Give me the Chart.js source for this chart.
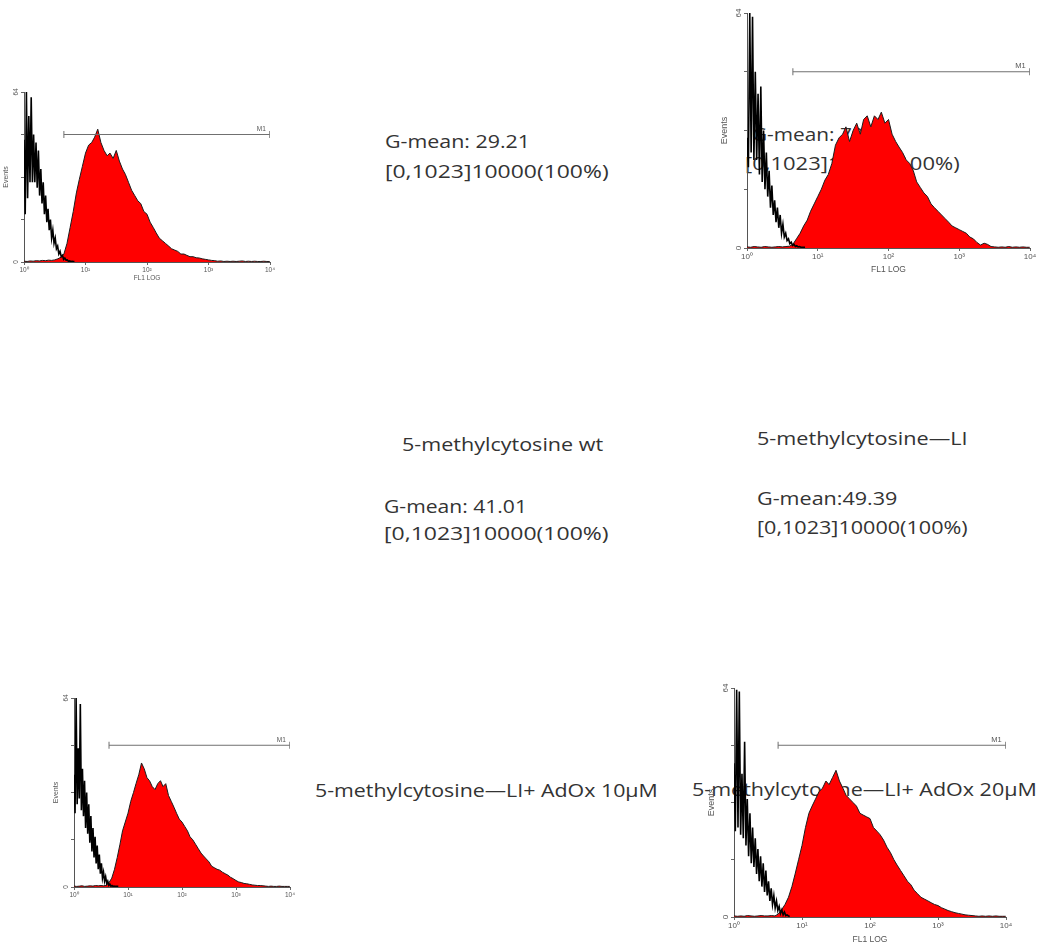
<!DOCTYPE html>
<html><head><meta charset="utf-8">
<script src="https://cdn.jsdelivr.net/npm/chart.js@4.4.1/dist/chart.umd.min.js"></script>
<style>
html,body{margin:0;padding:0;background:#fff;}
#page{position:relative;width:1049px;height:950px;overflow:hidden;background:#fff;}
.lbl{position:absolute;white-space:nowrap;font-family:"Open Sans",sans-serif;font-size:18px;line-height:24px;color:#333;transform-origin:0 0;z-index:1;}
.pc{position:absolute;z-index:2;}
canvas{display:block;}
</style></head><body><div id="page"></div>
<script>
// ---- data ----
// FL1 LOG channel numbers (0..1023, 256 channels per decade)
const channelFine = [0,5,10,15,20,25,30,35,40,45,50,55,60,65,70,75,80,85,90,95,100,105,110,115,120,125,130,135,140,145,150,155,160,165,170,175,180,185,190,195,200,205,210];
const channelBins = [0,13,26,38,51,64,77,90,102,115,128,141,154,166,179,192,205,218,230,243,
  256,269,282,294,307,320,333,346,358,371,384,397,410,422,435,448,461,474,486,499,
  512,525,538,550,563,576,589,602,614,627,640,653,666,678,691,704,717,730,742,755,
  768,781,794,806,819,832,845,858,870,883,896,909,922,934,947,960,973,986,998,1011,1023];
const decadeLabels = ['10\u2070','10\u00b9','10\u00b2','10\u00b3','10\u2074'];
const yLabelValues = [0, 64];
const gateM1 = [166, 1023];
const gateLevel = 48;

// unstained control (black) events
const ctrlWt = [46,18,64,24,55,30,62,30,48,30,45,28,42,25,35,22,30,18,25,15,20,12,16,9,12,7,9,5,6,3,4,2,2.5,1,1.5,0.7,0.8,0.3,0.4,0.2,0.3,0.2,0.2];
const ctrlLI = [30,22,64,26,63,24,48,24,42,20,44,18,32,16,26,14,21,11,17,9,13,7,11,5.5,9,4,6.5,3,4,2,2.5,1.2,1.6,0.7,1,0.4,0.6,0.3,0.4,0.2,0.2,0.2,0.2];
const ctrlAdOx10 = [38,25,64,28,47,30,62,26,40,24,36,20,32,18,28,15,24,12,20,10,17,8,14,6,11,4.5,8,3,5,2,3.5,1.2,2,0.6,1,0.3,0.5,0.2,0.3,0.2,0.2,0.2,0.2];
const ctrlAdOx20 = [43,24,63.5,25,63,23,40,22,49,20,33,17,29,15,25,14,22,12,19,10,17,8.5,15,7,13,6,10,4.5,8,3.5,6,2.5,4.5,1.8,3,1,2,0.6,1.4,0.4,0.6,0.3,0.2];

// 5-methylcytosine stained sample (red) events
const sampleWt = [0.3,0.2,0.4,0.3,0.5,0.4,0.6,0.5,0.7,0.6,0.8,1.2,1.8,3,7,13,19,26,31,36,
  41,44,45,47,50,45,42,40,41,39,42,38,35,33,30,27,25,23,22,19,
  18,15,13,11,9,8,7,6,5,4.5,4,3,3,2.5,2,2,1.6,1.5,1.2,1,
  0.8,0.6,0.5,0.3,0.4,0.2,0.3,0.2,0.3,0.2,0.3,0.4,0.2,0.3,0.2,0.3,0.2,0.2,0.3,0.2,0.2];
const sampleLI = [0.3,0.2,0.4,0.3,0.2,0.4,0.3,0.2,0.3,0.4,0.3,0.4,0.5,1,2.5,4,6,7.6,10,12,
  14,16,18.5,20,23,28,30,31,33,29,32,34,31,35,36,33,36,35,37,34,
  35,31,29,27.5,26,24,23,21,18,16.5,15,14,12,11,10,9,8,7,6,5.5,
  5,4.5,4,3,2.5,1.5,0.8,1.3,1,0.4,0.3,0.2,0.3,0.2,0.4,0.2,0.3,0.2,0.3,0.2,0.2];
const sampleAdOx10 = [0.3,0.2,0.3,0.4,0.2,0.3,0.4,0.3,0.5,0.4,0.5,0.4,0.6,1.5,3,6,10,14.5,19,22,
  25,29,32,35,38,42,40,37,36,34,33,35,36,34,35,31,29,27,25,23,
  22,20.5,19,17,16,14.5,13,11.5,10.5,9.5,8.5,7,6.5,6,5.7,5,4.5,4,3.3,2.8,
  2.2,1.7,1.5,1.2,1.1,0.9,0.7,0.6,0.5,0.5,0.4,0.3,0.2,0.3,0.2,0.2,0.3,0.2,0.2,0.2,0.2];
const sampleAdOx20 = [0.3,0.2,0.3,0.2,0.4,0.3,0.2,0.3,0.4,0.3,0.3,0.4,0.3,0.8,2,3.5,5.5,8.5,12,16,
  20,25,29,31,33,35,36,38,37,39,41,38,36,34,33,32,31,29,28.5,28,
  27.5,25,24,23,21.5,19.5,18,16,14.5,13,11.5,10,9,7.5,6.5,5.5,5,4.5,4,3.5,
  3.2,2.6,2.2,1.8,1.5,1.2,1,0.8,0.6,0.5,0.4,0.3,0.2,0.3,0.2,0.3,0.2,0.3,0.2,0.2,0.2];

// ---- layout ----
const panels = [
  {ctrl:ctrlWt, sample:sampleWt, left:2, top:84, yw:22, plotW:246, plotH:170, xh:20, padTop:8, padRight:14, tick:6.5, title:6.5, ev:7, gate:6.5, xTitle:true},
  {ctrl:ctrlLI, sample:sampleLI, left:719, top:5, yw:28, plotW:283, plotH:235, xh:27, padTop:8, padRight:14, tick:8, title:8.5, ev:9, gate:7.5, xTitle:true},
  {ctrl:ctrlAdOx10, sample:sampleAdOx10, left:52, top:690, yw:22, plotW:216, plotH:189, xh:14, padTop:8, padRight:14, tick:6.5, title:6.5, ev:7, gate:6.5, xTitle:false},
  {ctrl:ctrlAdOx20, sample:sampleAdOx20, left:706, top:680, yw:28, plotW:272, plotH:229, xh:28, padTop:8, padRight:14, tick:8, title:8.5, ev:9, gate:7.5, xTitle:true}
];

const texts = [
  {t:'G-mean: 29.21', x:385, y:135, w:145},
  {t:'[0,1023]10000(100%)', x:385, y:165, w:224},
  {t:'G-mean: 70.84', x:752, y:128, w:141},
  {t:'[0,1023]10000(100%)', x:745, y:157, w:215},
  {t:'5-methylcytosine wt', x:402, y:438, w:201},
  {t:'G-mean: 41.01', x:384, y:500, w:143},
  {t:'[0,1023]10000(100%)', x:384, y:527, w:225},
  {t:'5-methylcytosine\u2014LI', x:757, y:432, w:210},
  {t:'G-mean:49.39', x:757, y:492, w:140},
  {t:'[0,1023]10000(100%)', x:757, y:521, w:211},
  {t:'5-methylcytosine\u2014LI+ AdOx 10\u03bcM', x:315, y:784, w:343},
  {t:'5-methylcytosine\u2014LI+ AdOx 20\u03bcM', x:692, y:783, w:345}
];

const page = document.getElementById('page');

const gateLabelPlugin = {
  id: 'gateLabel',
  afterDatasetsDraw(chart, args, opts) {
    const {ctx, scales} = chart;
    const px = scales.x.getPixelForValue(gateM1[1]);
    const py = scales.y.getPixelForValue(gateLevel);
    ctx.save();
    ctx.font = opts.size + 'px "Liberation Sans", Arial, sans-serif';
    ctx.fillStyle = '#555';
    ctx.textAlign = 'right';
    ctx.textBaseline = 'bottom';
    ctx.fillText('M1', px - 4, py - 2);
    ctx.restore();
  }
};

function makePanel(p) {
  const w = p.yw + p.plotW + p.padRight;
  const h = p.padTop + p.plotH + p.xh;
  const div = document.createElement('div');
  div.className = 'pc';
  div.style.left = p.left + 'px';
  div.style.top = p.top + 'px';
  const cv = document.createElement('canvas');
  cv.width = w; cv.height = h;
  cv.style.width = w + 'px'; cv.style.height = h + 'px';
  div.appendChild(cv);
  page.appendChild(div);
  const fam = '"Liberation Sans", Arial, sans-serif';
  new Chart(cv, {
    type: 'line',
    data: {
      datasets: [
        {label:'M1', data:[{x:gateM1[0], y:gateLevel}, {x:gateM1[1], y:gateLevel}],
          borderColor:'#707070', borderWidth:1, pointStyle:'line', pointRotation:90,
          pointRadius:3.5, pointBorderColor:'#707070', pointBorderWidth:1, fill:false, order:0},
        {label:'control', data: channelFine.map((c,i)=>({x:c, y:p.ctrl[i]})),
          borderColor:'#000', borderWidth:1.6, pointRadius:0, fill:false, tension:0, order:1},
        {label:'sample', data: channelBins.map((c,i)=>({x:c, y:p.sample[i]})),
          borderColor:'#1c1c1c', borderWidth:1, backgroundColor:'#ff0000', fill:'origin',
          pointRadius:0, tension:0, order:2}
      ]
    },
    options: {
      responsive:false, animation:false, devicePixelRatio:1, events:[],
      layout:{padding:{left:0, top:p.padTop, right:p.padRight, bottom:0}},
      plugins:{legend:{display:false}, tooltip:{enabled:false}, gateLabel:{size:p.gate}},
      scales: {
        x: {
          type:'linear', min:0, max:1024,
          ticks:{stepSize:256, autoSkip:false, maxRotation:0, padding:1, color:'#555',
            font:{family:fam, size:p.tick},
            callback:(v)=>decadeLabels[Math.round(v/256)]},
          grid:{drawOnChartArea:false, tickLength:3, color:'#666'},
          border:{color:'#555', width:1},
          title:{display:p.xTitle, text:'FL1 LOG', color:'#555', padding:0, font:{family:fam, size:p.title}},
          afterFit:(s)=>{ s.height = p.xh; }
        },
        y: {
          min:0, max:64,
          ticks:{stepSize:16, minRotation:90, maxRotation:90, crossAlign:'center', padding:1, color:'#555',
            font:{family:fam, size:p.tick},
            callback:(v)=> yLabelValues.includes(v) ? String(v) : ''},
          grid:{drawOnChartArea:false, tickLength:3, color:'#666'},
          border:{color:'#555', width:1},
          title:{display:true, text:'Events', color:'#555', padding:0, font:{family:fam, size:p.ev}},
          afterFit:(s)=>{ s.width = p.yw; }
        }
      }
    },
    plugins:[gateLabelPlugin]
  });
}

panels.forEach(makePanel);

const els = texts.map(o => {
  const d = document.createElement('div');
  d.className = 'lbl';
  d.textContent = o.t;
  d.style.left = o.x + 'px';
  d.style.top = (o.y - 6) + 'px';
  page.appendChild(d);
  return d;
});
function fit() {
  els.forEach((d, i) => {
    const nat = d.offsetWidth;
    if (nat > 0) d.style.transform = 'scaleX(' + (texts[i].w / nat).toFixed(4) + ')';
  });
}
fit();
if (document.fonts && document.fonts.ready) document.fonts.ready.then(fit);
</script>
</body></html>
